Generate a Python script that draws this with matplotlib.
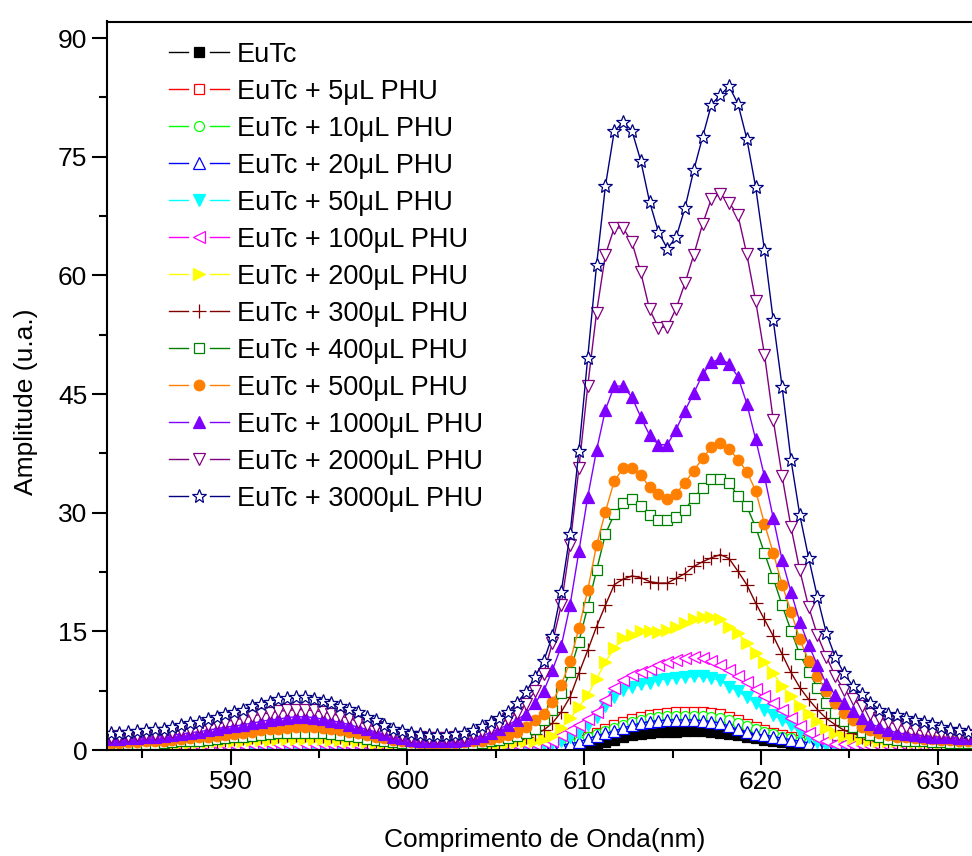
import numpy as np
import matplotlib
matplotlib.use("Agg")
import matplotlib.pyplot as plt
from matplotlib.lines import Line2D
from matplotlib.legend_handler import HandlerLine2D
from matplotlib.ticker import MultipleLocator

plt.rcParams['font.family'] = ['Liberation Sans', 'DejaVu Sans']

# wavelength grid (nm), 0.5 nm sampling
wavelength = np.arange(583.2, 631.75, 0.5)

labels = ["EuTc", "EuTc + 5\u03bcL PHU", "EuTc + 10\u03bcL PHU", "EuTc + 20\u03bcL PHU",
          "EuTc + 50\u03bcL PHU", "EuTc + 100\u03bcL PHU", "EuTc + 200\u03bcL PHU",
          "EuTc + 300\u03bcL PHU", "EuTc + 400\u03bcL PHU", "EuTc + 500\u03bcL PHU",
          "EuTc + 1000\u03bcL PHU", "EuTc + 2000\u03bcL PHU", "EuTc + 3000\u03bcL PHU"]

eutc = [0.2, 0.2, 0.2, 0.2, 0.2, 0.2, 0.2, 0.2, 0.3, 0.3,
        0.3, 0.3, 0.3, 0.3, 0.3, 0.3, 0.4, 0.4, 0.4, 0.4,
        0.4, 0.4, 0.4, 0.4, 0.4, 0.4, 0.4, 0.3, 0.3, 0.3,
        0.3, 0.3, 0.2, 0.2, 0.2, 0.2, 0.2, 0.2, 0.2, 0.2,
        0.2, 0.2, 0.2, 0.2, 0.2, 0.2, 0.2, 0.2, 0.2, 0.2,
        0.2, 0.2, 0.3, 0.3, 0.4, 0.6, 1.0, 1.3, 1.6, 1.9,
        2.0, 2.2, 2.3, 2.3, 2.3, 2.4, 2.4, 2.4, 2.3, 2.1,
        2.0, 1.9, 1.7, 1.5, 1.3, 1.1, 1.0, 0.8, 0.6, 0.4,
        0.3, 0.2, 0.2, 0.2, 0.2, 0.2, 0.2, 0.2, 0.2, 0.2,
        0.2, 0.2, 0.2, 0.2, 0.2, 0.2, 0.2, 0.2]

phu5 = [0.3, 0.3, 0.3, 0.3, 0.3, 0.4, 0.4, 0.4, 0.4, 0.4,
        0.4, 0.5, 0.5, 0.5, 0.5, 0.5, 0.6, 0.6, 0.6, 0.6,
        0.6, 0.6, 0.6, 0.6, 0.6, 0.6, 0.6, 0.5, 0.5, 0.5,
        0.4, 0.4, 0.4, 0.3, 0.3, 0.3, 0.3, 0.3, 0.3, 0.3,
        0.3, 0.3, 0.3, 0.3, 0.3, 0.3, 0.3, 0.4, 0.4, 0.5,
        0.6, 0.8, 1.0, 1.3, 1.7, 2.2, 2.6, 3.1, 3.5, 3.9,
        4.2, 4.4, 4.6, 4.7, 4.8, 4.8, 4.8, 4.8, 4.7, 4.5,
        4.2, 3.8, 3.3, 2.9, 2.5, 2.2, 1.9, 1.6, 1.3, 1.1,
        0.9, 0.7, 0.6, 0.5, 0.5, 0.4, 0.4, 0.4, 0.4, 0.4,
        0.4, 0.4, 0.4, 0.4, 0.3, 0.3, 0.3, 0.3]

phu10 = [0.3, 0.3, 0.3, 0.3, 0.3, 0.3, 0.4, 0.4, 0.4, 0.4,
         0.4, 0.4, 0.5, 0.5, 0.5, 0.5, 0.5, 0.6, 0.6, 0.6,
         0.6, 0.6, 0.6, 0.6, 0.6, 0.6, 0.5, 0.5, 0.5, 0.4,
         0.4, 0.4, 0.3, 0.3, 0.3, 0.3, 0.3, 0.3, 0.3, 0.3,
         0.3, 0.3, 0.3, 0.3, 0.3, 0.3, 0.3, 0.3, 0.4, 0.5,
         0.6, 0.7, 0.9, 1.2, 1.6, 2.0, 2.4, 2.8, 3.2, 3.5,
         3.8, 4.0, 4.2, 4.3, 4.3, 4.3, 4.3, 4.3, 4.2, 4.1,
         3.8, 3.4, 3.0, 2.6, 2.3, 2.0, 1.7, 1.5, 1.2, 1.0,
         0.8, 0.6, 0.5, 0.5, 0.4, 0.4, 0.4, 0.4, 0.4, 0.4,
         0.4, 0.3, 0.3, 0.3, 0.3, 0.3, 0.3, 0.3]

phu20 = [0.2, 0.2, 0.2, 0.2, 0.2, 0.2, 0.3, 0.3, 0.3, 0.3,
         0.3, 0.3, 0.4, 0.4, 0.4, 0.4, 0.4, 0.5, 0.5, 0.5,
         0.5, 0.5, 0.5, 0.5, 0.5, 0.5, 0.4, 0.4, 0.4, 0.4,
         0.3, 0.3, 0.3, 0.2, 0.2, 0.2, 0.2, 0.2, 0.2, 0.2,
         0.2, 0.2, 0.2, 0.2, 0.2, 0.2, 0.3, 0.3, 0.3, 0.4,
         0.5, 0.6, 0.8, 1.0, 1.4, 1.8, 2.1, 2.4, 2.8, 3.1,
         3.4, 3.6, 3.7, 3.8, 3.8, 3.8, 3.8, 3.7, 3.6, 3.4,
         3.0, 2.6, 2.3, 2.0, 1.9, 1.7, 1.5, 1.3, 1.1, 0.9,
         0.7, 0.6, 0.5, 0.4, 0.4, 0.3, 0.3, 0.3, 0.3, 0.3,
         0.3, 0.3, 0.3, 0.3, 0.3, 0.3, 0.3, 0.3]

phu50 = [0.3, 0.3, 0.3, 0.3, 0.3, 0.3, 0.3, 0.4, 0.4, 0.4,
         0.4, 0.4, 0.4, 0.5, 0.5, 0.5, 0.5, 0.5, 0.5, 0.5,
         0.5, 0.6, 0.6, 0.5, 0.5, 0.5, 0.5, 0.5, 0.5, 0.4,
         0.4, 0.4, 0.4, 0.3, 0.3, 0.3, 0.3, 0.3, 0.3, 0.3,
         0.3, 0.3, 0.3, 0.4, 0.4, 0.4, 0.5, 0.5, 0.6, 0.7,
         0.9, 1.2, 1.6, 2.2, 3.2, 4.2, 5.5, 6.7, 7.6, 8.0,
         8.3, 8.5, 8.8, 9.0, 9.1, 9.2, 9.3, 9.3, 9.1, 8.8,
         8.0, 7.4, 6.7, 5.9, 5.1, 4.4, 3.8, 3.2, 2.3, 1.6,
         1.0, 0.6, 0.4, 0.3, 0.3, 0.3, 0.2, 0.2, 0.2, 0.2,
         0.2, 0.2, 0.2, 0.2, 0.2, 0.2, 0.2, 0.2]

phu100 = [0.3, 0.3, 0.3, 0.3, 0.4, 0.4, 0.4, 0.4, 0.5, 0.5,
          0.5, 0.5, 0.6, 0.6, 0.6, 0.6, 0.7, 0.7, 0.7, 0.7,
          0.7, 0.7, 0.7, 0.7, 0.7, 0.7, 0.7, 0.6, 0.6, 0.6,
          0.5, 0.5, 0.5, 0.4, 0.4, 0.4, 0.4, 0.4, 0.4, 0.4,
          0.4, 0.4, 0.5, 0.5, 0.5, 0.6, 0.6, 0.7, 0.8, 1.0,
          1.2, 1.9, 2.5, 3.1, 3.9, 4.8, 6.3, 7.8, 8.8, 9.5,
          9.9, 10.3, 10.7, 11.1, 11.4, 11.6, 11.7, 11.6, 11.2, 10.7,
          10.1, 9.4, 8.6, 7.7, 6.8, 5.9, 5.0, 4.0, 3.0, 2.2,
          1.5, 1.1, 0.8, 0.7, 0.6, 0.6, 0.5, 0.5, 0.5, 0.5,
          0.5, 0.4, 0.4, 0.4, 0.4, 0.4, 0.4, 0.4]

phu200 = [0.6, 0.6, 0.6, 0.7, 0.7, 0.7, 0.8, 0.8, 0.9, 0.9,
          1.0, 1.0, 1.1, 1.1, 1.2, 1.2, 1.3, 1.3, 1.3, 1.4,
          1.4, 1.4, 1.4, 1.4, 1.4, 1.3, 1.3, 1.2, 1.1, 1.0,
          0.9, 0.9, 0.8, 0.7, 0.7, 0.6, 0.6, 0.6, 0.6, 0.6,
          0.6, 0.7, 0.7, 0.8, 0.8, 0.9, 1.0, 1.1, 1.2, 1.4,
          1.8, 2.8, 4.0, 5.4, 7.0, 9.0, 11.1, 12.9, 14.1, 14.6,
          15.0, 15.0, 14.9, 15.2, 15.6, 16.0, 16.5, 16.8, 16.8, 16.5,
          15.6, 14.8, 13.5, 12.3, 11.1, 9.7, 8.1, 6.8, 5.6, 4.5,
          3.7, 2.8, 2.2, 1.8, 1.5, 1.4, 1.3, 1.2, 1.2, 1.1,
          1.1, 1.0, 1.0, 1.0, 0.9, 0.9, 0.9, 0.9]

phu300 = [0.5, 0.5, 0.6, 0.6, 0.7, 0.7, 0.8, 0.9, 0.9, 1.0,
          1.1, 1.2, 1.2, 1.3, 1.4, 1.5, 1.6, 1.7, 1.8, 1.8,
          1.9, 1.9, 1.9, 1.9, 1.8, 1.8, 1.7, 1.5, 1.4, 1.2,
          1.1, 1.0, 0.9, 0.8, 0.7, 0.6, 0.6, 0.5, 0.5, 0.6,
          0.6, 0.7, 0.8, 0.9, 1.0, 1.2, 1.4, 1.7, 2.0, 2.5,
          3.4, 4.8, 6.7, 9.7, 12.6, 15.6, 18.3, 20.9, 21.6, 22.0,
          21.8, 21.3, 21.1, 21.1, 21.7, 22.3, 23.2, 23.8, 24.3, 24.7,
          24.2, 22.6, 20.9, 18.6, 16.5, 14.4, 12.1, 9.8, 7.9, 6.4,
          5.1, 4.0, 3.2, 2.5, 2.1, 1.7, 1.4, 1.2, 1.1, 1.0,
          0.9, 0.9, 0.8, 0.8, 0.8, 0.7, 0.7, 0.7]

phu400 = [0.6, 0.6, 0.7, 0.7, 0.8, 0.8, 0.9, 1.0, 1.1, 1.2,
          1.2, 1.3, 1.4, 1.5, 1.6, 1.7, 1.8, 1.9, 2.0, 2.1,
          2.1, 2.2, 2.2, 2.2, 2.1, 2.0, 1.9, 1.8, 1.6, 1.4,
          1.3, 1.1, 1.0, 0.9, 0.8, 0.7, 0.6, 0.6, 0.6, 0.7,
          0.7, 0.8, 0.9, 1.1, 1.3, 1.5, 1.8, 2.2, 2.6, 3.8,
          5.1, 7.2, 9.9, 13.7, 18.1, 22.7, 27.3, 29.8, 31.2, 31.7,
          30.8, 29.7, 29.1, 29.1, 29.5, 30.4, 31.9, 33.1, 34.2, 34.3,
          33.8, 32.1, 30.8, 28.2, 24.9, 21.7, 18.3, 15.1, 12.1, 9.9,
          7.9, 6.0, 4.7, 3.7, 2.9, 2.3, 1.9, 1.6, 1.4, 1.3,
          1.2, 1.1, 1.1, 1.0, 1.0, 0.9, 0.9, 0.9]

phu500 = [0.9, 0.9, 1.0, 1.0, 1.1, 1.1, 1.2, 1.3, 1.4, 1.5,
          1.6, 1.7, 1.8, 1.9, 2.0, 2.2, 2.3, 2.5, 2.6, 2.7,
          2.8, 2.9, 2.9, 2.9, 2.8, 2.7, 2.5, 2.3, 2.1, 1.9,
          1.7, 1.5, 1.3, 1.1, 1.0, 0.9, 0.8, 0.8, 0.8, 0.9,
          1.0, 1.1, 1.2, 1.4, 1.6, 1.9, 2.3, 2.9, 3.8, 4.6,
          6.1, 8.2, 11.2, 15.4, 20.2, 25.9, 30.1, 34.0, 35.6, 35.6,
          34.8, 33.2, 32.4, 31.7, 32.4, 33.8, 35.3, 36.9, 38.3, 38.8,
          38.1, 36.7, 35.2, 32.8, 28.6, 24.9, 20.9, 17.5, 14.0, 11.3,
          9.3, 7.4, 5.9, 4.7, 3.8, 2.9, 2.5, 2.2, 1.9, 1.7,
          1.6, 1.5, 1.4, 1.4, 1.3, 1.3, 1.2, 1.2]

phu1000 = [1.4, 1.4, 1.5, 1.5, 1.6, 1.7, 1.8, 1.9, 2.0, 2.2,
           2.3, 2.5, 2.7, 2.9, 3.0, 3.2, 3.4, 3.6, 3.8, 3.9,
           4.1, 4.2, 4.2, 4.1, 3.9, 3.7, 3.5, 3.2, 2.9, 2.6,
           2.3, 2.0, 1.7, 1.5, 1.3, 1.2, 1.1, 1.1, 1.1, 1.2,
           1.3, 1.5, 1.8, 2.2, 2.7, 3.2, 3.8, 4.6, 5.9, 7.4,
           10.1, 13.1, 18.3, 25.1, 32.0, 37.9, 43.0, 46.0, 46.0, 44.6,
           42.1, 39.8, 38.6, 38.6, 40.5, 42.9, 45.1, 47.5, 49.0, 49.5,
           48.8, 47.2, 43.8, 39.3, 34.6, 29.3, 24.0, 20.0, 16.2, 13.3,
           10.7, 8.4, 7.0, 5.9, 4.9, 4.0, 3.3, 2.9, 2.5, 2.2,
           2.0, 1.9, 1.8, 1.7, 1.6, 1.6, 1.5, 1.5]

phu2000 = [1.7, 1.8, 1.8, 1.9, 2.0, 2.0, 2.1, 2.3, 2.5, 2.7,
           2.9, 3.1, 3.4, 3.6, 3.8, 4.0, 4.3, 4.5, 4.7, 4.9,
           5.0, 5.1, 5.1, 5.0, 4.8, 4.6, 4.3, 4.0, 3.6, 3.2,
           2.9, 2.5, 2.2, 1.9, 1.7, 1.6, 1.5, 1.5, 1.5, 1.6,
           1.7, 2.0, 2.4, 2.8, 3.3, 3.9, 4.7, 5.8, 7.4, 9.6,
           13.5, 18.3, 25.9, 35.6, 46.0, 55.3, 62.6, 66.0, 66.0, 64.2,
           60.4, 55.7, 53.4, 53.5, 55.8, 59.0, 62.6, 66.5, 69.7, 70.3,
           69.2, 67.6, 62.7, 56.8, 50.0, 41.7, 34.6, 28.2, 22.7, 18.1,
           14.5, 11.8, 9.4, 7.6, 6.5, 5.5, 4.6, 4.0, 3.6, 3.2,
           2.9, 2.6, 2.4, 2.3, 2.2, 2.1, 2.0, 1.9]

phu3000 = [2.1, 2.2, 2.3, 2.4, 2.5, 2.6, 2.7, 2.9, 3.2, 3.4,
           3.6, 3.9, 4.2, 4.5, 4.8, 5.1, 5.5, 5.8, 6.1, 6.4,
           6.6, 6.7, 6.7, 6.5, 6.2, 6.0, 5.6, 5.2, 4.8, 4.2,
           3.8, 3.2, 2.7, 2.4, 2.2, 2.0, 1.9, 1.9, 1.9, 2.0,
           2.2, 2.5, 3.0, 3.5, 4.1, 4.8, 6.0, 7.3, 9.2, 11.2,
           14.4, 20.0, 27.3, 37.8, 49.6, 61.3, 71.3, 78.2, 79.4, 78.3,
           74.5, 69.3, 65.5, 63.4, 64.8, 68.5, 73.3, 77.5, 81.6, 82.8,
           83.9, 81.7, 77.3, 71.2, 63.2, 54.3, 45.9, 36.7, 29.7, 24.3,
           19.3, 14.8, 11.8, 9.7, 8.1, 7.1, 6.0, 5.1, 4.6, 4.4,
           4.0, 3.8, 3.5, 3.3, 2.9, 2.7, 2.5, 2.3]

series = [eutc, phu5, phu10, phu20, phu50, phu100, phu200,
          phu300, phu400, phu500, phu1000, phu2000, phu3000]

# styles: (color, marker, filled, markersize)
styles = [("#000000", "s", True, 6.6),
          ("#ff0000", "s", False, 6.6),
          ("#00ff00", "o", False, 7.2),
          ("#0000ff", "^", False, 8.0),
          ("#00ffff", "v", True, 8.0),
          ("#ff00ff", "<", False, 8.0),
          ("#ffff00", ">", True, 8.0),
          ("#800000", "+", False, 9.5),
          ("#008000", "s", False, 6.6),
          ("#ff8000", "o", True, 7.6),
          ("#8000ff", "^", True, 8.0),
          ("#800080", "v", False, 8.6),
          ("#000080", "*", False, 10.0)]

fig = plt.figure(figsize=(9.72, 8.56), dpi=100)
ax = fig.add_axes([107/972, 106/856, 866/972, 728.5/856])

handles = []
for vals, lab, (col, mk, filled, ms) in zip(series, labels, styles):
    assert len(vals) == len(wavelength)
    fc = col if filled else "white"
    if mk == "+":
        fc = col
    h, = ax.plot(wavelength, vals, color=col, lw=1.0, marker=mk, ms=ms,
                 mfc=fc, mec=col, mew=0.9, label=lab)
    handles.append(h)

ax.set_xlim(583, 632)
ax.set_ylim(0, 92.1)
ax.xaxis.set_major_locator(MultipleLocator(10))
ax.xaxis.set_minor_locator(MultipleLocator(5))
ax.yaxis.set_major_locator(MultipleLocator(15))
ax.yaxis.set_minor_locator(MultipleLocator(7.5))
ax.tick_params(which='major', direction='out', length=10.8, width=1.5,
               labelsize=19, pad=3.5)
ax.tick_params(which='minor', direction='out', length=5.8, width=1.5)
ax.tick_params(top=False, right=False)
for s in ('left', 'bottom', 'top'):
    ax.spines[s].set_linewidth(1.5)
ax.spines['right'].set_visible(False)

ax.set_xlabel("Comprimento de Onda(nm)", fontsize=19)
ax.set_ylabel("Amplitude (u.a.)", fontsize=19)
ax.xaxis.set_label_coords(0.5058, -0.107)
ax.yaxis.set_label_coords(-0.080, 0.478)


class SplitHandler(HandlerLine2D):
    def create_artists(self, legend, orig_handle, xdescent, ydescent,
                       width, height, fontsize, trans):
        y = height / 2 - ydescent
        x0 = -xdescent
        x1 = x0 + width
        xm = (x0 + x1) / 2
        gap = 0.36 * width
        l1 = Line2D([x0, xm - gap / 2], [y, y])
        l2 = Line2D([xm + gap / 2, x1], [y, y])
        m = Line2D([xm], [y])
        for a in (l1, l2, m):
            self.update_prop(a, orig_handle, legend)
            a.set_transform(trans)
        l1.set_marker('None')
        l2.set_marker('None')
        m.set_linestyle('None')
        return [l1, l2, m]


leg = ax.legend(handles=handles, loc='upper left',
                bbox_to_anchor=(0.0716, 0.972), frameon=False,
                fontsize=19.5, handlelength=2.2, handletextpad=0.3,
                labelspacing=0.405, borderpad=0, borderaxespad=0,
                handler_map={Line2D: SplitHandler()})

fig.savefig("out.png", dpi=100)
